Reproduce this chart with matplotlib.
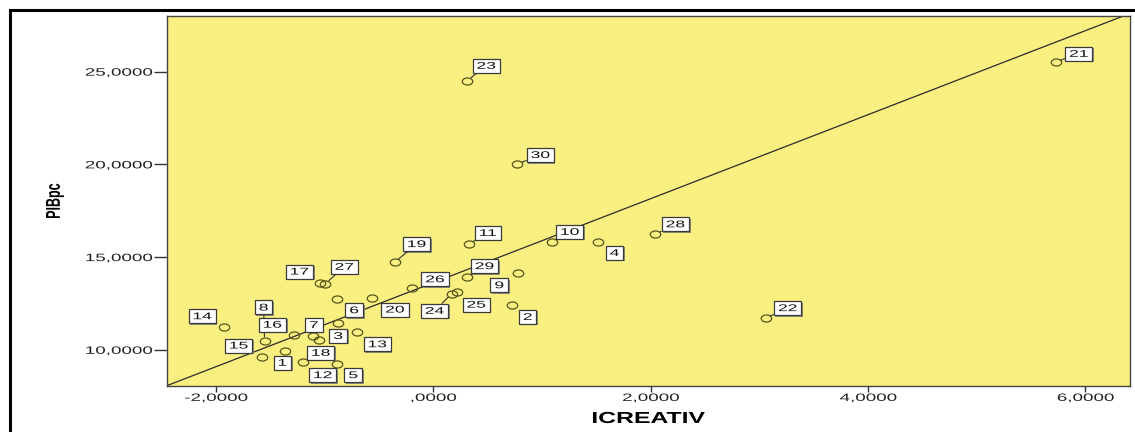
import matplotlib
matplotlib.use("Agg")
import matplotlib.pyplot as plt
import numpy as np
from matplotlib.path import Path
from matplotlib.lines import Line2D
from matplotlib.transforms import Affine2D
from matplotlib.patheffects import AbstractPathEffect

plt.rcParams['font.family'] = ['Liberation Sans', 'DejaVu Sans']

# ---- data ----
case_ids = list(range(1, 31))
icreativ = [-1.361, 0.721, -0.875, 1.511, -0.884, -0.884, -1.109, -1.552, 0.782, 1.090,
            0.327, -1.201, -0.699, -1.923, -1.579, -1.278, -1.038, -1.054, -0.355, -0.565,
            5.727, 3.058, 0.312, 0.168, 0.220, -0.196, -0.994, 2.043, 0.306, 0.773]
pibpc = [9.95, 12.42, 11.45, 15.82, 9.23, 12.73, 10.75, 10.45, 14.13, 15.82,
         15.71, 9.34, 10.95, 11.22, 9.64, 10.82, 13.63, 10.54, 14.73, 12.82,
         25.53, 11.71, 24.51, 13.02, 13.14, 13.32, 13.56, 16.23, 13.92, 20.02]
fit_intercept = 13.62
fit_slope = 2.265

x_ticks = [-2, 0, 2, 4, 6]
x_tick_labels = ['-2,0000', ',0000', '2,0000', '4,0000', '6,0000']
y_ticks = [10, 15, 20, 25]
y_tick_labels = ['10,0000', '15,0000', '20,0000', '25,0000']

# label offsets in pixels (dx right, dy down) and whether a leader line is drawn
label_dx = [-3, 16, 0, 17, 16, 17, 1, -1, -19, 18,
            19, 20, 20, -22, -23, -22, -21, 2, 22, 23,
            23, 22, 19, -17, 19, 23, 19, 20, 18, 23]
label_dy = [12, 12, 13, 11, 11, 11, -11, -34, 12, -10,
            -11, 13, 12, -11, -11, -10, -11, 13, -18, 12,
            -8, -10, -15, 17, 13, -9, -17, -10, -11, -9]
leader = [False, False, False, False, False, False, False, True, False, True,
          True, False, False, False, False, False, False, False, True, False,
          True, True, True, True, False, False, True, True, True, True]


class Stretch(AbstractPathEffect):
    """Draw text glyphs stretched (the reference picture is horizontally stretched)."""
    def __init__(self, sx=1.0, sy=1.0, anchor='center'):
        super().__init__()
        self.sx, self.sy, self.anchor = sx, sy, anchor

    def draw_path(self, renderer, gc, tpath, affine, rgbFace=None):
        ext = tpath.get_extents()
        if self.anchor == 'right':
            ax0 = ext.x1
        elif self.anchor == 'left':
            ax0 = ext.x0
        else:
            ax0 = (ext.x0 + ext.x1) / 2
        ay0 = (ext.y0 + ext.y1) / 2
        a = Affine2D().translate(-ax0, -ay0).scale(self.sx, self.sy).translate(ax0, ay0) + affine
        renderer.draw_path(gc, tpath, a, rgbFace)


LBL_SX = 1.8


def stretched_box(sx, hp, vp):
    def box(x0, y0, width, height, mutation_size):
        cx = x0 + width / 2
        cy = y0 + height / 2
        w = width * sx + 2 * hp
        h = height + 2 * vp
        l, r, b, t = cx - w / 2, cx + w / 2, cy - h / 2, cy + h / 2
        return Path([(l, b), (r, b), (r, t), (l, t), (l, b)], closed=True)
    return box


W, H = 1135, 432
fig = plt.figure(figsize=(W / 100, H / 100), dpi=100)
fig.patch.set_facecolor('white')

ax = fig.add_axes([167 / W, 1 - 386 / H, (1130 - 167) / W, (386 - 16) / H])
ax.set_facecolor('#FAF082')
ax.set_xlim(-2.45, 6.41)
ax.set_ylim(8.05, 28.0)

# fit line
xl = np.array(ax.get_xlim())
ax.plot(xl, fit_intercept + fit_slope * xl, color='#2b2b2b', lw=0.9, zorder=2)

# elliptical hollow marker
circ = Path.unit_circle()
ell = Path(circ.vertices * np.array([1.0, 0.68]), circ.codes)
ax.plot(icreativ, pibpc, linestyle='none', marker=ell, markersize=7.5,
        markerfacecolor='none', markeredgecolor='#55551a', markeredgewidth=0.9, zorder=3)

boxfn = stretched_box(LBL_SX, 4.0, 2.0)
for cid, xv, yv, dx, dy, ld in zip(case_ids, icreativ, pibpc, label_dx, label_dy, leader):
    arrow = None
    if ld:
        arrow = dict(arrowstyle='-', color='#333333', lw=0.8, shrinkA=0, shrinkB=3.5)
    ax.annotate(str(cid), xy=(xv, yv), xytext=(dx + 1.5, -dy - 1.5), textcoords='offset pixels',
                ha='center', va='center', fontsize=7, color='none',
                bbox=dict(boxstyle=boxfn, fc='#8c8c78', ec='none'), zorder=4)
    t = ax.annotate(str(cid), xy=(xv, yv), xytext=(dx, -dy), textcoords='offset pixels',
                    ha='center', va='center', fontsize=7, color='#111111',
                    bbox=dict(boxstyle=boxfn, fc='white', ec='#3a3a3a', lw=0.9),
                    arrowprops=arrow, zorder=5)
    t.set_path_effects([Stretch(LBL_SX)])

ax.set_xticks(x_ticks)
ax.set_xticklabels(x_tick_labels, fontsize=7.7, color='#222222')
ax.set_yticks(y_ticks)
ax.set_yticklabels(y_tick_labels, fontsize=7.7, color='#222222')
ax.tick_params(axis='x', length=4, width=1, color='#333333', pad=1)
ax.tick_params(axis='y', length=9.3, width=1, color='#333333', pad=1.5)
for lbl in ax.get_xticklabels():
    lbl.set_path_effects([Stretch(1.76)])
for lbl in ax.get_yticklabels():
    lbl.set_path_effects([Stretch(1.76, anchor='right')])
for s in ax.spines.values():
    s.set_color('#444444')
    s.set_linewidth(1.0)

ax.set_xlabel('ICREATIV', fontsize=11.5, fontweight='bold')
ax.xaxis.label.set_va('baseline')
ax.xaxis.set_label_coords(0.5, (386 - 423) / 370)
ax.xaxis.label.set_path_effects([Stretch(1.55)])

ax.set_ylabel('PIBpc', fontsize=9, fontweight='bold')
ax.yaxis.set_label_coords((61 - 167) / 963, 0.5)
ax.yaxis.label.set_path_effects([Stretch(1.0, 1.6)])

# outer frame (top and left)
fig.add_artist(Line2D([10 / W, 10 / W], [0, 1 - 10 / H], transform=fig.transFigure,
                      color='black', lw=2.2))
fig.add_artist(Line2D([10 / W, 1], [1 - 10 / H, 1 - 10 / H], transform=fig.transFigure,
                      color='black', lw=2.2))

fig.savefig('out.png', dpi=100)
